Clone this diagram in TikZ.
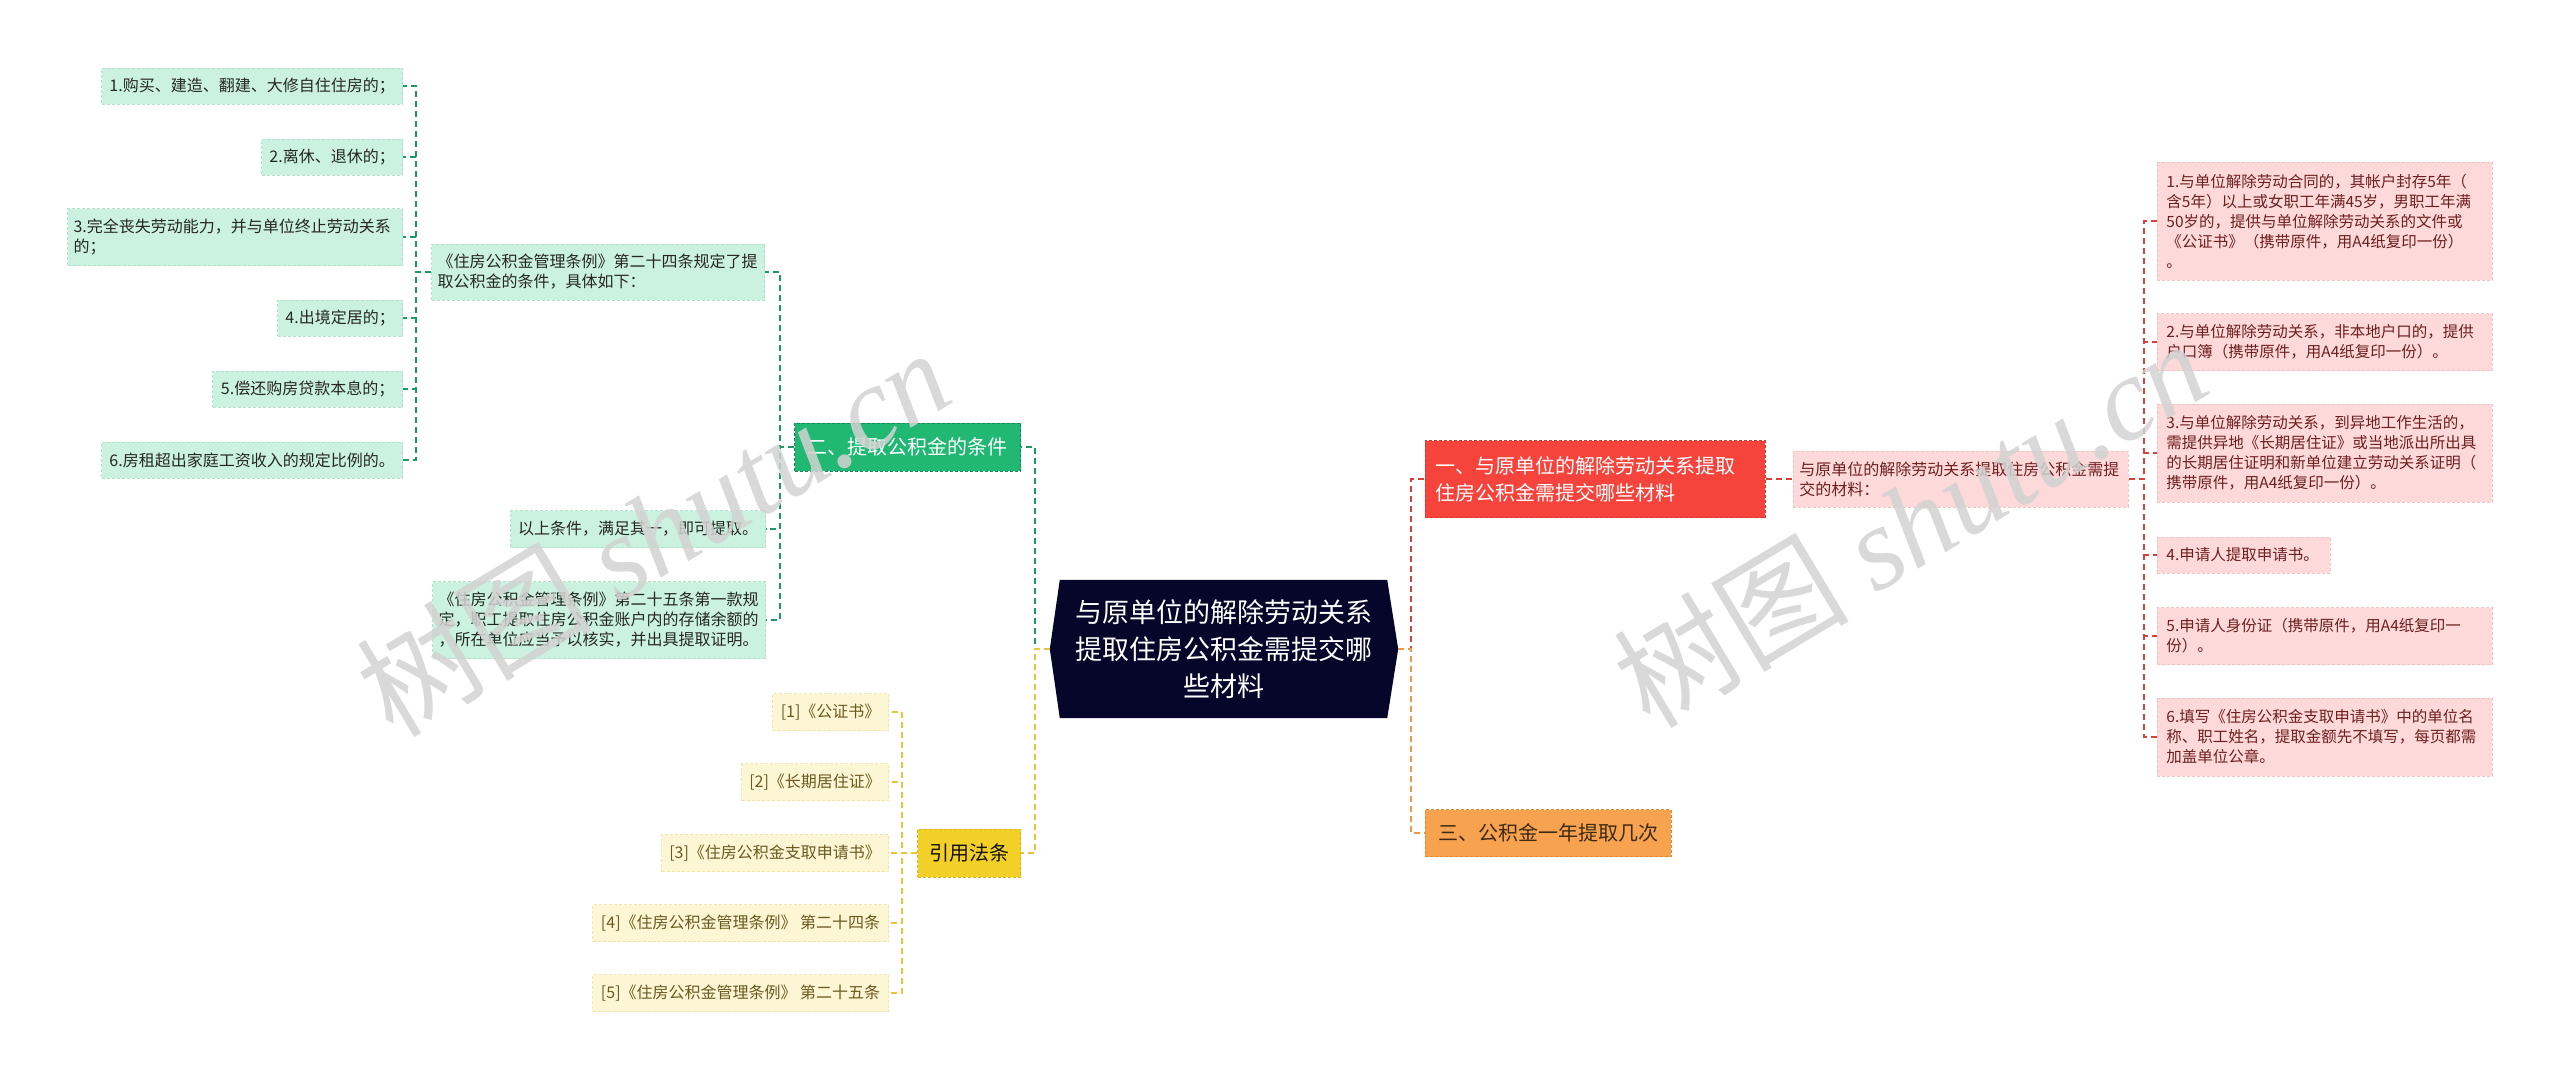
\documentclass[tikz,border=0pt]{standalone}
\usepackage{fontspec}
\setmainfont{Noto Sans CJK SC}
\newfontfamily\wmlatin{Liberation Serif}
\usetikzlibrary{calc,backgrounds}
\definecolor{gleaf}{HTML}{CBF2E0}
\definecolor{gleafb}{HTML}{AEE3CA}
\definecolor{gline}{HTML}{1C9A63}
\definecolor{gbranch}{HTML}{20B872}
\definecolor{gbranchb}{HTML}{168A55}
\definecolor{yleaf}{HTML}{FDF6D5}
\definecolor{yleafb}{HTML}{F1E4AE}
\definecolor{yline}{HTML}{E8C43C}
\definecolor{ybranch}{HTML}{F2D028}
\definecolor{ybranchb}{HTML}{D6B418}
\definecolor{ytext}{HTML}{6A5A1E}
\definecolor{navy}{HTML}{05062A}
\definecolor{rbranch}{HTML}{F6443D}
\definecolor{rbranchb}{HTML}{D03731}
\definecolor{rline}{HTML}{D9403A}
\definecolor{pleaf}{HTML}{FDD9D9}
\definecolor{pleafb}{HTML}{F4C2C2}
\definecolor{ptext}{HTML}{6E1F1F}
\definecolor{oline}{HTML}{EC9A4A}
\definecolor{obranch}{HTML}{F6A24E}
\definecolor{obranchb}{HTML}{DE8737}
\definecolor{otext}{HTML}{3D2A14}
\definecolor{wmgray}{HTML}{D2D2D2}
\begin{document}
\begin{tikzpicture}[x=1pt,y=-1pt,
  box/.style={inner xsep=6pt, inner ysep=0pt, align=left, line width=0.8pt,
    dash pattern=on 3pt off 2pt, font=\fontsize{16}{20}\selectfont},
  gl/.style={box, fill=gleaf, draw=gleafb, text=black!85},
  yl/.style={box, fill=yleaf, draw=yleafb, text=ytext},
  pl/.style={box, fill=pleaf, draw=pleafb, text=ptext},
  pli/.style={pl, inner xsep=9pt, font=\fontsize{15.5}{20}\selectfont},
  br/.style={box, inner xsep=10pt, font=\fontsize{20}{27}\selectfont},
  conn/.style={line width=1.5pt, dash pattern=on 6pt off 4pt},
  wm/.style={text=wmgray, opacity=0.85, font=\fontsize{118}{118}\selectfont, inner sep=0pt}
]
\useasboundingbox (0,0) rectangle (2560,1080);

% ---- centre
\node[text=white, align=center, font=\fontsize{27}{37}\selectfont,
  minimum width=348pt, minimum height=138pt, inner sep=0pt] (center) at (1224,649)
  {与原单位的解除劳动关系\\提取住房公积金需提交哪\\些材料};
\begin{pgfonlayer}{background}
\fill[navy] ($(center.north west)+(10,0)$) -- ($(center.north east)+(-11,0)$) -- (center.east)
  -- ($(center.south east)+(-11,0)$) -- ($(center.south west)+(10,0)$) -- (center.west) -- cycle;
\end{pgfonlayer}

% ---- green branch
\node[br, fill=gbranch, draw=gbranchb, text=white, minimum width=226pt, minimum height=48pt, anchor=east] (b2) at (1021,447) {二、提取公积金的条件};
\node[gl, text width=321pt, minimum height=56pt, anchor=east] (a24) at (765,272)
  {《住房公积金管理条例》第二十四条规定了提\\取公积金的条件，具体如下：};
\node[gl, minimum width=255pt, minimum height=37pt, anchor=east] (aok) at (766,529) {以上条件，满足其一，即可提取。};
\node[gl, text width=321pt, minimum height=77pt, anchor=east] (a25) at (766,620)
  {《住房公积金管理条例》第二十五条第一款规\\定，职工提取住房公积金账户内的存储余额的\\，所在单位应当予以核实，并出具提取证明。};
\node[gl, minimum width=301pt, minimum height=36pt, anchor=east] (g1) at (403,86) {1.购买、建造、翻建、大修自住住房的；};
\node[gl, minimum width=141pt, minimum height=36pt, anchor=east] (g2) at (403,157) {2.离休、退休的；};
\node[gl, text width=323pt, minimum height=57pt, anchor=east] (g3) at (403,237) {3.完全丧失劳动能力，并与单位终止劳动关系\\的；};
\node[gl, minimum width=125pt, minimum height=36pt, anchor=east] (g4) at (403,318) {4.出境定居的；};
\node[gl, minimum width=190pt, minimum height=36pt, anchor=east] (g5) at (403,389) {5.偿还购房贷款本息的；};
\node[gl, minimum width=301pt, minimum height=36pt, anchor=east] (g6) at (403,460) {6.房租超出家庭工资收入的规定比例的。};

% ---- yellow branch
\node[br, fill=ybranch, draw=ybranchb, text=black!80!ytext, minimum width=103pt, minimum height=48pt, anchor=east] (cite) at (1021,853) {引用法条};
\node[yl, minimum width=116pt, minimum height=37pt, anchor=east] (y1) at (889,712) {[1]《公证书》};
\node[yl, minimum width=147pt, minimum height=37pt, anchor=east] (y2) at (889,782) {[2]《长期居住证》};
\node[yl, minimum width=227pt, minimum height=37pt, anchor=east] (y3) at (889,853) {[3]《住房公积金支取申请书》};
\node[yl, minimum width=296pt, minimum height=37pt, anchor=east] (y4) at (889,923) {[4]《住房公积金管理条例》 第二十四条};
\node[yl, minimum width=296pt, minimum height=37pt, anchor=east] (y5) at (889,993) {[5]《住房公积金管理条例》 第二十五条};

% ---- red branch
\node[br, fill=rbranch, draw=rbranchb, text=white, text width=320pt, minimum height=77pt, anchor=west] (r1) at (1425,479)
  {一、与原单位的解除劳动关系提取\\住房公积金需提交哪些材料};
\node[pl, text width=323pt, minimum height=56pt, anchor=west] (pk) at (1793,479)
  {与原单位的解除劳动关系提取住房公积金需提\\交的材料：};
\node[pli, text width=317pt, minimum height=118pt, anchor=west] (p1) at (2157,221)
  {1.与单位解除劳动合同的，其帐户封存5年（\\含5年）以上或女职工年满45岁，男职工年满\\50岁的，提供与单位解除劳动关系的文件或\\《公证书》（携带原件，用A4纸复印一份）\\。};
\node[pli, text width=317pt, minimum height=57pt, anchor=west] (p2) at (2157,342)
  {2.与单位解除劳动关系，非本地户口的，提供\\户口簿（携带原件，用A4纸复印一份）。};
\node[pli, text width=317pt, minimum height=98pt, anchor=west] (p3) at (2157,453)
  {3.与单位解除劳动关系，到异地工作生活的，\\需提供异地《长期居住证》或当地派出所出具\\的长期居住证明和新单位建立劳动关系证明（\\携带原件，用A4纸复印一份）。};
\node[pli, text width=155pt, minimum height=36pt, anchor=west] (p4) at (2157,555) {4.申请人提取申请书。};
\node[pli, text width=317pt, minimum height=57pt, anchor=west] (p5) at (2157,636)
  {5.申请人身份证（携带原件，用A4纸复印一\\份）。};
\node[pli, text width=317pt, minimum height=78pt, anchor=west] (p6) at (2157,737)
  {6.填写《住房公积金支取申请书》中的单位名\\称、职工姓名，提取金额先不填写，每页都需\\加盖单位公章。};

% ---- orange branch
\node[br, fill=obranch, draw=obranchb, text=otext, minimum width=246pt, minimum height=47pt, anchor=west] (r3) at (1425,833) {三、公积金一年提取几次};

% ---- connectors
\draw[conn, gline] (center.west) -- ++(-15,0) |- (b2.east);
\draw[conn, yline] (center.west) -- ++(-15,0) |- (cite.east);
\foreach \c in {a24,aok,a25} \draw[conn, gline] (b2.west) -- ++(-14,0) |- (\c.east);
\foreach \c in {g1,g2,g3,g4,g5,g6} \draw[conn, gline] (a24.west) -- ++(-15,0) |- (\c.east);
\foreach \c in {y1,y2,y3,y4,y5} \draw[conn, yline] (cite.west) -- ++(-15,0) |- (\c.east);
\draw[conn, rline] (center.east) -- ++(13,0) |- (r1.west);
\draw[conn, oline] (center.east) -- ++(13,0) |- (r3.west);
\draw[conn, rline] (r1.east) -- (pk.west);
\foreach \c in {p1,p2,p3,p4,p5,p6} \draw[conn, rline] (pk.east) -- ++(15,0) |- (\c.west);

% ---- watermarks
\node[wm, rotate=31] (wm1) at (653,531) {树图 {\wmlatin\itshape shutu.cn}};
\node[wm, rotate=31] (wm2) at (1910,522) {树图 {\wmlatin\itshape shutu.cn}};
\end{tikzpicture}
\end{document}
